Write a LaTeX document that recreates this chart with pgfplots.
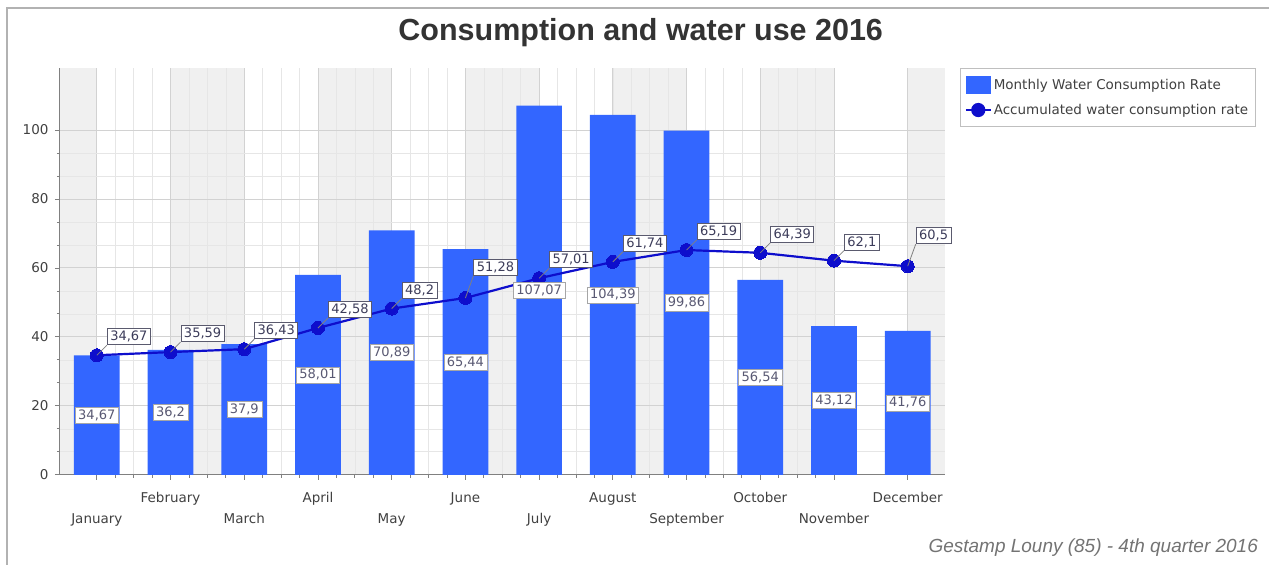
\documentclass[border=0pt]{standalone}
\usepackage{pgfplots}
\pgfplotsset{compat=1.18}
\usepackage{pgfplotstable}
\usepackage{fontspec}
\setmainfont{DejaVu Sans}
\newfontfamily\arialfont{Liberation Sans}
\definecolor{barblue}{RGB}{51,102,255}
\definecolor{lineblue}{RGB}{14,14,204}
\definecolor{bandgray}{RGB}{240,240,240}
\definecolor{majgrid}{RGB}{210,210,210}
\definecolor{mingrid}{RGB}{230,230,230}
\definecolor{txtgray}{RGB}{64,64,64}
\definecolor{labtxt}{RGB}{60,60,90}
\definecolor{labbord}{RGB}{90,90,110}

\pgfplotstableread{
x m a
0 34.67 34.67
1 36.2 35.59
2 37.9 36.43
3 58.01 42.58
4 70.89 48.2
5 65.44 51.28
6 107.07 57.01
7 104.39 61.74
8 99.86 65.19
9 56.54 64.39
10 43.12 62.1
11 41.76 60.5
}\datatab

\pgfplotsset{
  pinlab/.style 2 args={
    nodes near coords,
    every node near coord/.append style={anchor=south west, xshift=#1, yshift=#2,
      draw=labbord, line width=0.9pt, fill=white, inner xsep=3pt, inner ysep=2.5pt,
      font=\fontsize{13}{15}\selectfont, text=labtxt,
      append after command={(\tikzlastnode.south west) edge[gray, line width=0.8pt] ++(-#1,-#2)}}
  }
}

\begin{document}
\begin{tikzpicture}[x=1pt,y=1pt]
\path (0,0) rectangle (1270,565);
% alternating background bands of the plot area
\fill[bandgray] (60,90) rectangle (96.875,497);
\fill[bandgray] (170.625,90) rectangle (244.375,497);
\fill[bandgray] (318.125,90) rectangle (391.875,497);
\fill[bandgray] (465.625,90) rectangle (539.375,497);
\fill[bandgray] (613.125,90) rectangle (686.875,497);
\fill[bandgray] (760.625,90) rectangle (834.375,497);
\fill[bandgray] (908.125,90) rectangle (945,497);
\draw[gray!60, line width=1.2pt] (7,0) -- (7,557) -- (1270,557);
\node[font=\arialfont\bfseries\fontsize{30.5}{36}\selectfont, text=black!80] at (641,532) {Consumption and water use 2016};
\node[font=\arialfont\itshape\fontsize{19}{22}\selectfont, text=black!55, anchor=east] at (1262,17) {Gestamp Louny (85) - 4th quarter 2016};
\begin{axis}[
  at={(60pt,90pt)}, anchor=south west,
  width=885pt, height=407pt, scale only axis,
  xmin=-0.5, xmax=11.5, ymin=0, ymax=118,
  clip=false,
  axis lines=left, axis line style={-, draw=gray, line width=1pt},
  tick align=outside, major tick length=5pt, minor tick length=3pt,
  tick style={gray, line width=0.8pt},
  grid=both,
  major grid style={majgrid, line width=0.9pt},
  minor grid style={mingrid, line width=0.6pt},
  ytick={0,20,40,60,80,100}, minor y tick num=2,
  xtick={0,2,4,6,8,10}, minor x tick num=7,
  xticklabels={January,March,May,July,September,November},
  extra x ticks={1,3,5,7,9,11},
  extra x tick labels={February,April,June,August,October,December},
  extra x tick style={grid=major, xticklabel style={yshift=21pt}},
  xticklabel style={font=\fontsize{13.5}{16}\selectfont, text=txtgray, yshift=-30pt},
  yticklabel style={font=\fontsize{13.5}{16}\selectfont, text=txtgray, xshift=-3pt},
  /pgf/number format/assume math mode=true,
  /pgf/number format/use comma,
  legend style={at={(axis description cs:1.017,1)}, anchor=north west,
    draw=gray!50, fill=white, font=\fontsize{13.5}{15}\selectfont, text=txtgray,
    inner xsep=5pt, inner ysep=8pt, row sep=8pt},
  legend cell align=left,
]
\addplot[ybar, bar width=0.62, bar shift=0pt, fill=barblue, draw=none,
  legend image code/.code={\fill[barblue] (0pt,-9pt) rectangle (25pt,9pt);}]
  table[x=x, y=m] {\datatab};
\addlegendentry{Monthly Water Consumption Rate}

\addplot[lineblue, line width=2.2pt, mark=*, mark size=6.5pt,
  mark options={fill=lineblue, draw=lineblue, line width=0pt},
  legend image code/.code={\draw[lineblue, line width=2pt] (0pt,0pt) -- (25pt,0pt); \fill[lineblue] (12.5pt,0pt) circle (6pt);}]
  table[x=x, y=a] {\datatab};
\addlegendentry{Accumulated water consumption rate}

% labels of the accumulated line
\addplot[draw=none, mark=none, forget plot, point meta=y, pinlab={10pt}{10pt}]
  coordinates {(0,34.67) (1,35.59) (2,36.43) (3,42.58) (4,48.2) (6,57.01) (7,61.74) (8,65.19) (9,64.39) (10,62.1)};
\addplot[draw=none, mark=none, forget plot, point meta=y, pinlab={8pt}{22pt}]
  coordinates {(5,51.28) (11,60.5)};

% labels of the monthly bars, at half height
\addplot[draw=none, mark=none, forget plot,
  point meta=explicit,
  nodes near coords,
  every node near coord/.append style={anchor=center, draw=gray!70, fill=white,
    inner xsep=3pt, inner ysep=2.5pt, font=\fontsize{13}{15}\selectfont, text=labtxt!85}]
  table[x=x, y expr=\thisrow{m}/2, meta=m] {\datatab};
\end{axis}
\end{tikzpicture}
\end{document}
